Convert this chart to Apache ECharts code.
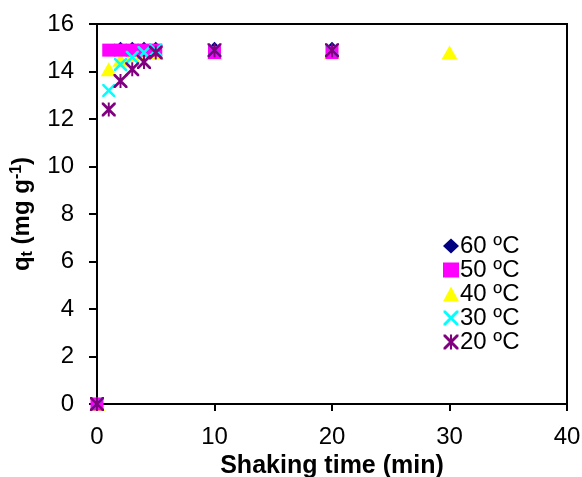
<!DOCTYPE html>
<html><head><meta charset="utf-8">
<script src="https://cdn.jsdelivr.net/npm/echarts@6/dist/echarts.min.js"></script>
<style>html,body{margin:0;padding:0;background:#fff}#c{width:582px;height:477px}</style>
</head><body><div id="c"></div>
<script>
var xTimes = [0, 1, 2, 3, 4, 5, 10, 20];
var x40 = [0, 1, 2, 3, 4, 5, 10, 20, 30];
var q60 = [0, 14.9, 15.0, 15.0, 15.0, 15.0, 15.0, 15.0];
var q50 = [0, 14.9, 14.9, 14.9, 14.9, 14.9, 14.8, 14.8];
var q40 = [0, 14.1, 14.5, 14.7, 14.8, 14.8, 14.8, 14.8, 14.8];
var q30 = [0, 13.2, 14.3, 14.6, 14.8, 14.9, 14.9, 14.9];
var q20 = [0, 12.4, 13.6, 14.1, 14.4, 14.8, 14.9, 14.9];
var seriesNames = ['60 \u00baC', '50 \u00baC', '40 \u00baC', '30 \u00baC', '20 \u00baC'];
var xTicks = [0, 10, 20, 30, 40];
var yTicks = [0, 2, 4, 6, 8, 10, 12, 14, 16];

function pairs(xs, ys) { return xs.map(function (x, i) { return [x, ys[i]]; }); }
var t = 14;
var diag1 = 'M0 0L' + t + ' 0L100 ' + (100 - t) + 'L100 100L' + (100 - t) + ' 100L0 ' + t + 'Z';
var diag2 = 'M100 0L100 ' + t + 'L' + t + ' 100L0 100L0 ' + (100 - t) + 'L' + (100 - t) + ' 0Z';
var vert = 'M' + (50 - t / 2) + ' 0L' + (50 + t / 2) + ' 0L' + (50 + t / 2) + ' 100L' + (50 - t / 2) + ' 100Z';
var crossPath = 'path://' + diag1 + diag2;
var starPath = 'path://' + diag1 + diag2 + vert;
var FONT = 'Liberation Sans, Arial, sans-serif';

var chart = echarts.init(document.getElementById('c'));
chart.setOption({
  animation: false,
  grid: { left: 97, right: 15, top: 24, bottom: 73, containLabel: false, outerBoundsMode: 'none', show: true, borderColor: '#000', borderWidth: 2, backgroundColor: 'transparent' },
  legend: {
    orient: 'vertical', left: 438, top: 229, itemGap: 0, itemWidth: 16, itemHeight: 15,
    textStyle: { fontFamily: FONT, fontSize: 24, lineHeight: 23.7, color: '#000', padding: [0, 0, 0, -4] },
    data: seriesNames
  },
  xAxis: {
    type: 'value', min: 0, max: 40, interval: 10,
    name: 'Shaking time (min)', nameLocation: 'middle', nameGap: 49,
    nameTextStyle: { fontFamily: FONT, fontSize: 25, fontWeight: 'bold', color: '#000' },
    axisLine: { lineStyle: { color: '#000', width: 2 } },
    axisTick: { show: true, inside: false, length: 7, lineStyle: { color: '#000', width: 2 } },
    axisLabel: { fontFamily: FONT, fontSize: 24, color: '#000', margin: 21, customValues: xTicks },
    splitLine: { show: false }
  },
  yAxis: {
    type: 'value', min: 0, max: 16, interval: 2,
    name: '{b|q}{s|t}{b| (mg g}{p|-1}{b|)}', nameLocation: 'middle', nameGap: 61,
    nameTextStyle: {
      fontFamily: FONT, fontSize: 24, fontWeight: 'bold', color: '#000',
      rich: {
        b: { fontFamily: FONT, fontSize: 24, fontWeight: 'bold', color: '#000', lineHeight: 28 },
        s: { fontFamily: FONT, fontSize: 16, fontWeight: 'bold', color: '#000', lineHeight: 28, padding: [12, 0, 0, 0] },
        p: { fontFamily: FONT, fontSize: 16, fontWeight: 'bold', color: '#000', lineHeight: 28, padding: [0, 0, 10, 0] }
      }
    },
    axisLine: { lineStyle: { color: '#000', width: 2 } },
    axisTick: { show: true, inside: false, length: 8, lineStyle: { color: '#000', width: 2 } },
    axisLabel: { fontFamily: FONT, fontSize: 24, color: '#000', margin: 23, customValues: yTicks },
    splitLine: { show: false }
  },
  series: [
    { name: seriesNames[0], type: 'scatter', z: 3, symbol: 'diamond', symbolSize: 12, itemStyle: { color: '#000080', opacity: 1 }, data: pairs(xTimes, q60) },
    { name: seriesNames[1], type: 'scatter', z: 4, symbol: 'rect', symbolSize: 13, itemStyle: { color: '#FF00FF', opacity: 1 }, data: pairs(xTimes, q50) },
    { name: seriesNames[2], type: 'scatter', z: 2, symbol: 'triangle', symbolSize: [16, 14], itemStyle: { color: '#FFFF00', opacity: 1 }, data: pairs(x40, q40) },
    { name: seriesNames[3], type: 'scatter', z: 5, symbol: crossPath, symbolSize: 13, itemStyle: { color: '#00FFFF', opacity: 1 }, data: pairs(xTimes, q30) },
    { name: seriesNames[4], type: 'scatter', z: 6, symbol: starPath, symbolSize: 14, itemStyle: { color: '#800080', opacity: 1 }, data: pairs(xTimes, q20) }
  ]
});
</script></body></html>
